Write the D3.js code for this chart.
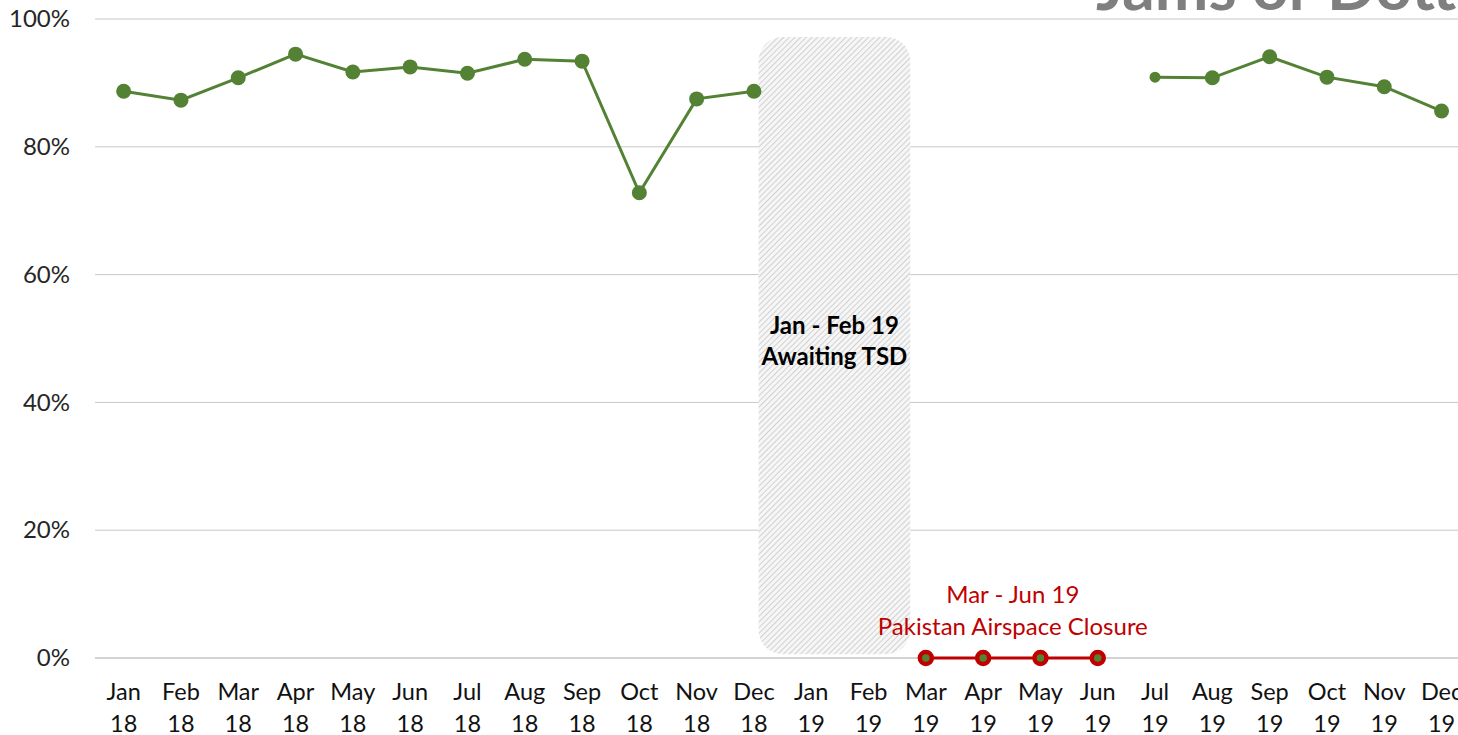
<!DOCTYPE html>
<head>
  <meta charset="utf-8">
  <script src="https://d3js.org/d3.v7.min.js"></script>
  <style>
    body { margin:0; background:#fff; overflow:hidden; }
    text { font-family: Lato, "Open Sans", sans-serif; }
  </style>
</head>
<body>
  <script>
    var width = 1458, height = 735;

    var months = ["Jan 18","Feb 18","Mar 18","Apr 18","May 18","Jun 18","Jul 18","Aug 18","Sep 18","Oct 18","Nov 18","Dec 18",
                  "Jan 19","Feb 19","Mar 19","Apr 19","May 19","Jun 19","Jul 19","Aug 19","Sep 19","Oct 19","Nov 19","Dec 19"];
    // on-time share, null where no data
    var onTime = [88.7, 87.3, 90.8, 94.5, 91.7, 92.5, 91.5, 93.7, 93.4, 72.8, 87.5, 88.7,
                  null, null, null, null, null, null, 90.9, 90.8, 94.1, 90.9, 89.4, 85.6];
    var closureMonths = ["Mar 19","Apr 19","May 19","Jun 19"];
    var closureValues = [0, 0, 0, 0];
    var yTicks = [0, 20, 40, 60, 80, 100];

    var svg = d3.select("body").append("svg")
      .attr("width", width)
      .attr("height", height);

    var x = d3.scaleBand().domain(months).range([95, 95 + 24 * 57.3]);
    var y = d3.scaleLinear().domain([0, 100]).range([658, 19]);
    var cx = function(m) { return x(m) + x.bandwidth() / 2; };

    // title, mostly cut off above the page
    svg.append("text")
      .attr("x", 1096).attr("y", 10)
      .attr("font-size", 64).attr("font-weight", "bold")
      .attr("fill", "#7f7f7f")
      .text("Jams or Dotts");

    // grid
    svg.selectAll(".grid").data(yTicks).enter().append("line")
      .attr("x1", 95).attr("x2", width)
      .attr("y1", function(d) { return y(d); })
      .attr("y2", function(d) { return y(d); })
      .attr("stroke", function(d) { return d == 0 ? "#a6a6a6" : "#c8c8c8"; })
      .attr("stroke-width", 1);

    var yAxis = d3.axisLeft(y).tickValues(yTicks).tickSize(0).tickPadding(0)
      .tickFormat(function(d) { return d + "%"; });
    svg.append("g").attr("transform", "translate(70,0)").call(yAxis)
      .call(function(g) { g.select(".domain").remove(); })
      .selectAll("text").attr("font-size", 24).attr("fill", "#262626")
      .attr("font-family", "Lato, 'Open Sans', sans-serif");

    // x labels, two lines
    var xl = svg.selectAll(".xl").data(months).enter().append("text")
      .attr("text-anchor", "middle")
      .attr("font-size", 23.5).attr("fill", "#111");
    xl.append("tspan").attr("x", cx).attr("y", 700).text(function(d) { return d.split(" ")[0]; });
    xl.append("tspan").attr("x", cx).attr("y", 732).text(function(d) { return d.split(" ")[1]; });

    // hatched "awaiting" box
    var defs = svg.append("defs");
    var pat = defs.append("pattern").attr("id", "hatch")
      .attr("patternUnits", "userSpaceOnUse").attr("width", 4).attr("height", 4)
      .attr("patternTransform", "rotate(45)");
    pat.append("rect").attr("width", 4).attr("height", 4).attr("fill", "#f6f6f6");
    pat.append("line").attr("x1", 0).attr("y1", 0).attr("x2", 0).attr("y2", 4)
      .attr("stroke", "#bdbdbd").attr("stroke-width", 1.3);

    var bx0 = x("Jan 19") - 24, bx1 = x("Feb 19") + x.bandwidth() + 13;
    svg.append("rect")
      .attr("x", bx0).attr("y", y(97.2))
      .attr("width", bx1 - bx0).attr("height", y(0.6) - y(97.2))
      .attr("rx", 24).attr("ry", 24)
      .attr("fill", "url(#hatch)");
    svg.append("text").attr("x", (bx0 + bx1) / 2).attr("y", 334)
      .attr("text-anchor", "middle").attr("font-size", 24).attr("font-weight", "bold")
      .attr("fill", "#000").text("Jan - Feb 19");
    svg.append("text").attr("x", (bx0 + bx1) / 2).attr("y", 365)
      .attr("text-anchor", "middle").attr("font-size", 24).attr("font-weight", "bold")
      .attr("fill", "#000").text("Awaiting TSD");

    // green on-time series
    var green = "#548235";
    var pts = months.map(function(m, i) { return { m: m, v: onTime[i], i: i }; });
    var line = d3.line()
      .defined(function(d) { return d.v != null; })
      .x(function(d) { return cx(d.m); })
      .y(function(d) { return y(d.v); });
    svg.append("path").datum(pts).attr("d", line)
      .attr("fill", "none").attr("stroke", green).attr("stroke-width", 3);
    svg.selectAll(".dot").data(pts.filter(function(d) { return d.v != null; })).enter()
      .append("circle")
      .attr("cx", function(d) { return cx(d.m); })
      .attr("cy", function(d) { return y(d.v); })
      .attr("r", function(d) { return d.m == "Jul 19" ? 5.5 : 7.5; })
      .attr("fill", green);

    // red closure series
    var red = "#c00000";
    var cpts = closureMonths.map(function(m, i) { return { m: m, v: closureValues[i] }; });
    svg.append("path").datum(cpts)
      .attr("d", d3.line().x(function(d) { return cx(d.m); }).y(function(d) { return y(d.v); }))
      .attr("fill", "none").attr("stroke", red).attr("stroke-width", 3);
    svg.selectAll(".rdot").data(cpts).enter().append("circle")
      .attr("cx", function(d) { return cx(d.m); })
      .attr("cy", function(d) { return y(d.v); })
      .attr("r", 6).attr("fill", green)
      .attr("stroke", red).attr("stroke-width", 4.5);

    var lx = (cx("Mar 19") + cx("Jun 19")) / 2 + 1;
    svg.append("text").attr("x", lx).attr("y", 603)
      .attr("text-anchor", "middle").attr("font-size", 24).attr("fill", red)
      .text("Mar - Jun 19");
    svg.append("text").attr("x", lx).attr("y", 635)
      .attr("text-anchor", "middle").attr("font-size", 24).attr("fill", red)
      .text("Pakistan Airspace Closure");
  </script>
</body>
